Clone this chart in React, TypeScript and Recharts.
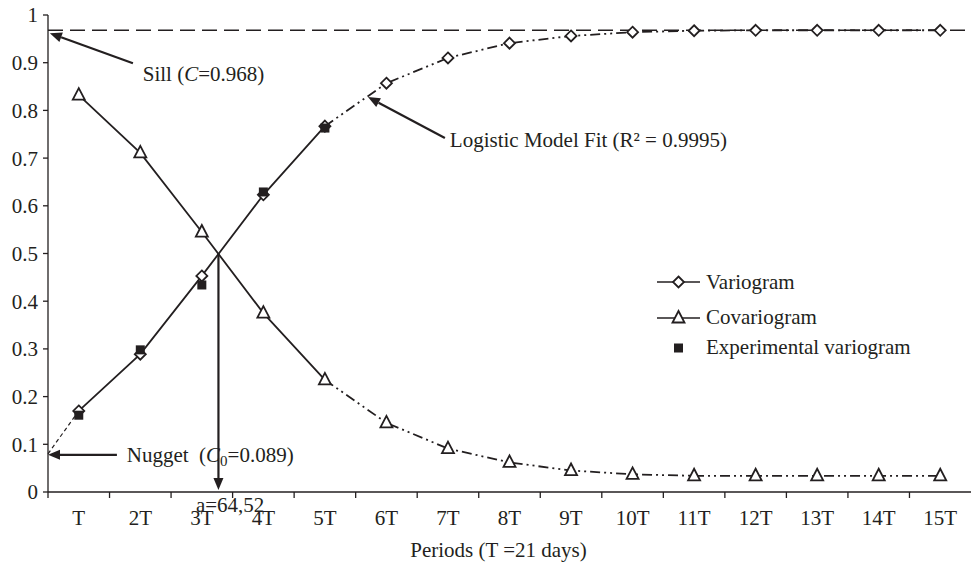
import React from "react";
import {
  ComposedChart,
  Line,
  XAxis,
  YAxis,
  ReferenceLine,
  ReferenceDot,
  Legend,
} from "recharts";

const periods = ["T", "2T", "3T", "4T", "5T", "6T", "7T", "8T", "9T", "10T", "11T", "12T", "13T", "14T", "15T"];
const variogram = [0.17, 0.289, 0.453, 0.623, 0.767, 0.857, 0.91, 0.941, 0.956, 0.964, 0.967, 0.968, 0.968, 0.968, 0.968];
const covariogram = [0.832, 0.711, 0.545, 0.375, 0.235, 0.145, 0.091, 0.062, 0.045, 0.037, 0.034, 0.034, 0.034, 0.034, 0.034];
const experimental = [0.161, 0.298, 0.434, 0.629, 0.763];
const yTicks = [0, 0.1, 0.2, 0.3, 0.4, 0.5, 0.6, 0.7, 0.8, 0.9, 1];
const sill = 0.968;
const nuggetStart = 0.08;
const rangePoint = 3.27; // where the two curves cross (a=64,52)

const WIDTH = 971;
const HEIGHT = 565;
const Y_AXIS_W = 48;
const BAND = (WIDTH - Y_AXIS_W) / periods.length;
const INK = "#231f20";
const FONT = '"Liberation Serif", "Times New Roman", serif';
const FIT_DASH = "10 4 2 4 2 4";

// solid part is measured (T..5T), dash-dot part is the model fit
const rows = [
  { x: 0.5, nug: nuggetStart },
  ...periods.map((p, i) => ({
    x: i + 1,
    nug: i === 0 ? variogram[0] : undefined,
    varMeas: i < 5 ? variogram[i] : undefined,
    varFit: i >= 4 ? variogram[i] : undefined,
    covMeas: i < 5 ? covariogram[i] : undefined,
    covFit: i >= 4 ? covariogram[i] : undefined,
    variogram: variogram[i],
    covariogram: covariogram[i],
    experimental: i < experimental.length ? experimental[i] : undefined,
  })),
];

const Diamond = ({ cx, cy }: any) =>
  cx == null || cy == null ? <g /> : (
    <polygon
      points={`${cx},${cy - 5.5} ${cx + 5.5},${cy} ${cx},${cy + 5.5} ${cx - 5.5},${cy}`}
      fill="#fff"
      stroke={INK}
      strokeWidth={1.8}
    />
  );

const Triangle = ({ cx, cy }: any) =>
  cx == null || cy == null ? <g /> : (
    <polygon
      points={`${cx},${cy - 7} ${cx + 6},${cy + 4.5} ${cx - 6},${cy + 4.5}`}
      fill="#fff"
      stroke={INK}
      strokeWidth={1.8}
    />
  );

const Square = ({ cx, cy }: any) =>
  cx == null || cy == null ? <g /> : (
    <rect x={cx - 4.5} y={cy - 4.5} width={9} height={9} fill={INK} />
  );

const PeriodTick = ({ x, y, payload }: any) => (
  <g>
    <line x1={x - BAND / 2} y1={y} x2={x - BAND / 2} y2={y + 6} stroke={INK} strokeWidth={1.3} />
    <text x={x} y={y + 33} textAnchor="middle" fontSize={21} fontFamily={FONT} fill={INK}>
      {periods[payload.value - 1]}
    </text>
  </g>
);

const Arrow = (props: any) => {
  const { x1, y1, x2, y2 } = props;
  const ang = Math.atan2(y2 - y1, x2 - x1);
  const len = 12;
  const half = 5;
  const bx = x2 - len * Math.cos(ang);
  const by = y2 - len * Math.sin(ang);
  const px = -Math.sin(ang) * half;
  const py = Math.cos(ang) * half;
  return (
    <g>
      <line x1={x1} y1={y1} x2={bx} y2={by} stroke={INK} strokeWidth={2.2} />
      <polygon points={`${x2},${y2} ${bx + px},${by + py} ${bx - px},${by - py}`} fill={INK} />
    </g>
  );
};

const textStyle = { fontSize: 21, fontFamily: FONT, fill: INK };

const note = (content: React.ReactNode, anchor = "start") => (props: any) => (
  <text x={props.cx} y={props.cy} dominantBaseline="central" textAnchor={anchor} {...textStyle}>
    {content}
  </text>
);

const renderLegend = () => (
  <svg width={300} height={100}>
    <line x1={7} y1={20} x2={50} y2={20} stroke={INK} strokeWidth={1.6} />
    <Diamond cx={28.5} cy={20} />
    <text x={56} y={20} dominantBaseline="central" {...textStyle}>Variogram</text>
    <line x1={7} y1={56} x2={50} y2={56} stroke={INK} strokeWidth={1.6} />
    <Triangle cx={28.5} cy={56} />
    <text x={56} y={55} dominantBaseline="central" {...textStyle}>Covariogram</text>
    <Square cx={28.5} cy={86} />
    <text x={56} y={85} dominantBaseline="central" {...textStyle}>Experimental variogram</text>
  </svg>
);

export default function App() {
  return (
    <div style={{ position: "absolute", left: 0, top: 0, background: "#fff" }}>
      <ComposedChart width={WIDTH} height={HEIGHT} data={rows} margin={{ top: 15, right: 0, left: 0, bottom: 0 }}>
        <XAxis
          dataKey="x"
          type="number"
          domain={[0.5, 15.5]}
          ticks={periods.map((_, i) => i + 1)}
          interval={0}
          tickLine={false}
          tickSize={0}
          tickMargin={0}
          tick={PeriodTick}
          height={73}
          axisLine={{ stroke: INK, strokeWidth: 1.3 }}
          label={{ value: "Periods (T =21 days)", position: "insideBottom", offset: 8, dx: -11, ...textStyle }}
        />
        <YAxis
          type="number"
          domain={[0, 1]}
          ticks={yTicks}
          interval={0}
          width={Y_AXIS_W}
          tickSize={5}
          tickMargin={5}
          tickFormatter={(v: number) => (v === 0 ? "0" : v === 1 ? "1" : v.toFixed(1))}
          tick={textStyle}
          axisLine={{ stroke: INK, strokeWidth: 1.3 }}
          tickLine={{ stroke: INK, strokeWidth: 1.3 }}
        />
        <ReferenceLine y={sill} stroke={INK} strokeWidth={1.3} strokeDasharray="15 7" />

        <Line dataKey="nug" type="linear" stroke={INK} strokeWidth={1.2} strokeDasharray="4 3" dot={false} isAnimationActive={false} legendType="none" />
        <Line dataKey="varMeas" type="linear" stroke={INK} strokeWidth={1.8} dot={false} isAnimationActive={false} legendType="none" />
        <Line dataKey="varFit" type="linear" stroke={INK} strokeWidth={1.8} strokeDasharray={FIT_DASH} dot={false} isAnimationActive={false} legendType="none" />
        <Line dataKey="covMeas" type="linear" stroke={INK} strokeWidth={1.8} dot={false} isAnimationActive={false} legendType="none" />
        <Line dataKey="covFit" type="linear" stroke={INK} strokeWidth={1.8} strokeDasharray={FIT_DASH} dot={false} isAnimationActive={false} legendType="none" />
        <Line dataKey="variogram" name="Variogram" stroke="none" dot={Diamond} activeDot={false} isAnimationActive={false} />
        <Line dataKey="covariogram" name="Covariogram" stroke="none" dot={Triangle} activeDot={false} isAnimationActive={false} />
        <Line dataKey="experimental" name="Experimental variogram" stroke="none" dot={Square} activeDot={false} isAnimationActive={false} />

        <ReferenceLine segment={[{ x: 1.88, y: 0.899 }, { x: 0.53, y: 0.962 }]} shape={Arrow} />
        <ReferenceLine segment={[{ x: 1.62, y: 0.078 }, { x: 0.5, y: 0.078 }]} shape={Arrow} />
        <ReferenceLine segment={[{ x: 6.95, y: 0.742 }, { x: 5.7, y: 0.828 }]} shape={Arrow} />
        <ReferenceLine segment={[{ x: rangePoint, y: 0.5 }, { x: rangePoint, y: 0.004 }]} shape={Arrow} />

        <ReferenceDot x={2.04} y={0.876} ifOverflow="visible" shape={note(<>Sill (<tspan fontStyle="italic">C</tspan>=0.968)</>)} />
        <ReferenceDot
          x={1.78}
          y={0.078}
          ifOverflow="visible"
          shape={note(
            <>
              {"Nugget\u00a0 ("}
              <tspan fontStyle="italic">C</tspan>
              <tspan fontSize={15} dy={6}>0</tspan>
              <tspan dy={-6}>=0.089)</tspan>
            </>
          )}
        />
        <ReferenceDot x={7.03} y={0.738} ifOverflow="visible" shape={note("Logistic Model Fit (R\u00b2 = 0.9995)")} />
        <ReferenceDot x={3.46} y={-0.027} ifOverflow="visible" shape={note("a=64,52", "middle")} />

        <Legend
          layout="vertical"
          align="center"
          verticalAlign="middle"
          content={renderLegend}
          wrapperStyle={{ left: 650, top: 262, width: 300, height: 100 }}
        />
      </ComposedChart>
    </div>
  );
}
